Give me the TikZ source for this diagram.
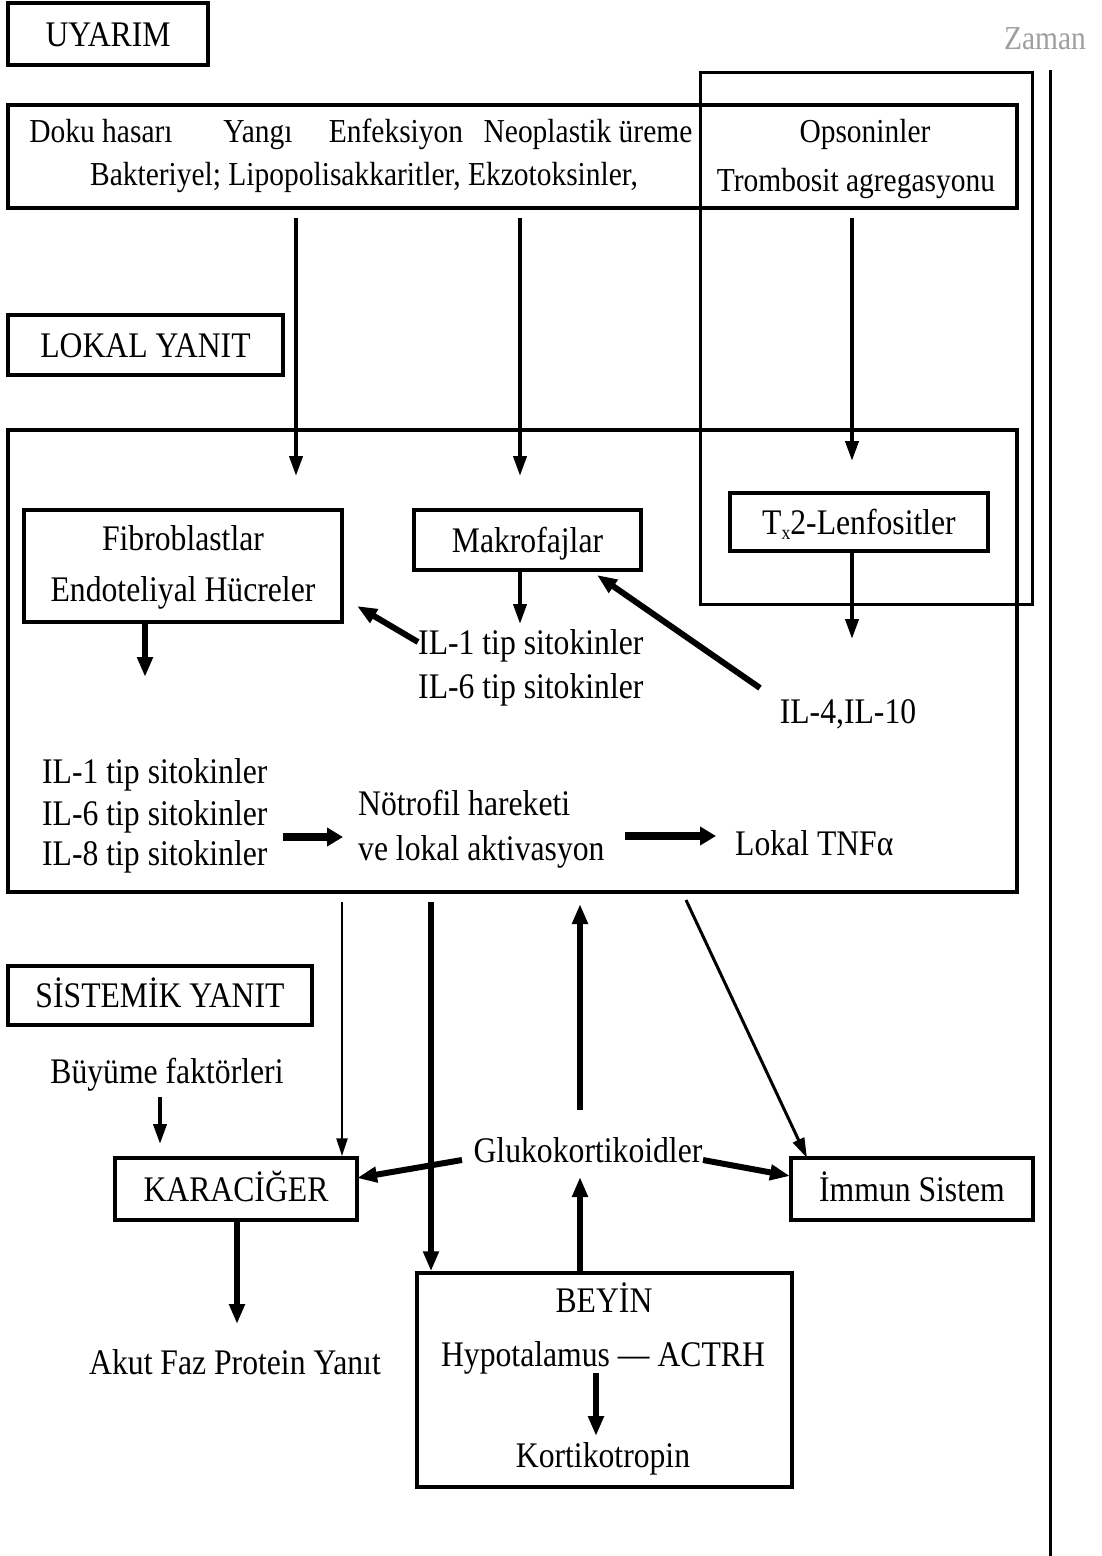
\documentclass[tikz,border=0pt]{standalone}
\usepackage{fontspec}
\setmainfont[FakeStretch=0.88]{Liberation Serif}
\usetikzlibrary{arrows.meta}
\begin{document}
\begin{tikzpicture}[x=1pt,y=-1pt,
  font=\fontsize{36}{42}\selectfont,
  box/.style={draw, line width=3.5pt, inner sep=0pt, text height=24pt, text depth=0pt},
  lbl/.style={inner sep=0pt, anchor=center, text height=24pt, text depth=0pt},
  sm/.style={font=\fontsize{33.5}{40}\selectfont},
  arrA/.style={line width=4pt, -{Triangle[length=20pt,width=13pt]}},
  arrB/.style={line width=6pt, -{Triangle[length=20pt,width=15pt]}},
  arrC/.style={line width=2.5pt, -{Triangle[length=18pt,width=11pt]}},
  arrD/.style={line width=8pt, -{Triangle[length=16pt,width=18pt]}}
]
\useasboundingbox (0,0) rectangle (1101,1556);
\fill[white] (0,0) rectangle (1101,1556);

% header labels
\node[box, minimum width=200pt, minimum height=62pt] (uyarim) at (108,34) {UYARIM};
\node[box, minimum width=275pt, minimum height=60pt] (lokal) at (145.5,345) {LOKAL YANIT};
\node[box, minimum width=304pt, minimum height=59pt] (sistemik) at (160,995.5) {SİSTEMİK YANIT};

% time axis
\node[lbl, sm, text=gray!75] (zaman) at (1045,37) {Zaman};
\coordinate (zt) at (1050,70);
\coordinate (zb) at (1050,1556);
\draw[line width=3pt] (zt) -- (zb);

% top stimulus box
\node[box, minimum width=1009pt, minimum height=103pt] (top) at (512.5,156.5) {};
\node[lbl, sm] (doku) at (101,130) {Doku hasarı};
\node[lbl, sm] (yangi) at (258,130) {Yangı};
\node[lbl, sm] (enf) at (396,130) {Enfeksiyon};
\node[lbl, sm] (neo) at (588,130) {Neoplastik üreme};
\node[lbl, sm] (bakt) at (364,173) {Bakteriyel; Lipopolisakkaritler, Ekzotoksinler,};
\node[lbl, sm] (ops) at (865,130) {Opsoninler};
\node[lbl, sm] (tromb) at (856,179) {Trombosit agregasyonu};

% overlay box
\node[draw, line width=3pt, inner sep=0pt, minimum width=332pt, minimum height=532pt] (opsbox) at (866,338) {};

% local box
\node[box, minimum width=1009pt, minimum height=462pt] (local) at (512.5,661) {};

\coordinate (d1s) at (296,218); \coordinate (d1e) at (296,476);
\coordinate (d2s) at (520,218); \coordinate (d2e) at (520,476);
\coordinate (d3s) at (852,218); \coordinate (d3e) at (852,461);
\draw[arrA] (d1s) -- (d1e);
\draw[arrA] (d2s) -- (d2e);
\draw[arrA] (d3s) -- (d3e);

\node[box, minimum width=318pt, minimum height=112pt] (fibro) at (183,566) {};
\node[lbl] (fibt1) at (183,538) {Fibroblastlar};
\node[lbl] (fibt2) at (183,589) {Endoteliyal Hücreler};
\node[box, minimum width=227pt, minimum height=60pt] (makro) at (527.5,540) {Makrofajlar};
\node[box, minimum width=258pt, minimum height=58pt] (tx2) at (859,522) {T\raisebox{-0.35ex}{\fontsize{20}{20}\selectfont x}2-Lenfositler};

\coordinate (fd) at (145,677);
\draw[arrB] (fibro.south -| fd) -- (fd);
\coordinate (md) at (520,624);
\draw[arrA] (makro.south -| md) -- (md);
\coordinate (td) at (852,639);
\draw[arrA] (tx2.south -| td) -- (td);

\node[lbl, anchor=west] (il1a) at (418,642) {IL-1 tip sitokinler};
\node[lbl, anchor=west] (il6a) at (418,686) {IL-6 tip sitokinler};
\node[lbl] (il410) at (848,711) {IL-4,IL-10};
\coordinate (ilf) at (357,606);
\draw[arrB] (il1a.west) -- (ilf);
\coordinate (il4s) at (760,688);
\coordinate (il4e) at (597,575);
\draw[arrB] (il4s) -- (il4e);

\node[lbl, anchor=west] (il1b) at (42,771) {IL-1 tip sitokinler};
\node[lbl, anchor=west] (il6b) at (42,813) {IL-6 tip sitokinler};
\node[lbl, anchor=west] (il8b) at (42,853) {IL-8 tip sitokinler};
\node[lbl, anchor=west] (notr1) at (358,803) {Nötrofil hareketi};
\node[lbl, anchor=west] (notr2) at (358,848) {ve lokal aktivasyon};
\node[lbl, anchor=west] (tnf) at (735,843) {Lokal TNFα};
\coordinate (h1s) at (283,837); \coordinate (h1e) at (343,837);
\draw[arrD] (h1s) -- (h1e);
\coordinate (h2s) at (625,836); \coordinate (h2e) at (716,836);
\draw[arrD] (h2s) -- (h2e);

% systemic part
\node[box, minimum width=242pt, minimum height=62pt] (karac) at (236,1189) {KARACİĞER};
\node[box, minimum width=242pt, minimum height=62pt] (immun) at (912,1189) {İmmun Sistem};
\node[box, minimum width=375pt, minimum height=214pt] (beyin) at (604.5,1380) {};
\node[lbl] (beyt) at (604,1300) {BEYİN};
\node[lbl] (hypo) at (603,1354) {Hypotalamus — ACTRH};
\node[lbl] (korti) at (603,1455) {Kortikotropin};
\coordinate (hk) at (596,1436);
\draw[arrB] (596,1373) -- (hk);

\node[lbl] (buyume) at (167,1071) {Büyüme faktörleri};
\coordinate (bk) at (160,1144);
\draw[arrA] (160,1097) -- (bk);

\node[lbl] (gluko) at (588,1150) {Glukokortikoidler};

\coordinate (s1) at (342,902);
\draw[arrC] (s1) -- (karac.north -| s1);
\coordinate (s2) at (431,902);
\draw[arrB] (s2) -- (beyin.north -| s2);
\coordinate (s3s) at (580,1110); \coordinate (s3e) at (580,904);
\draw[arrB] (s3s) -- (s3e);
\coordinate (s4s) at (686,900); \coordinate (s4e) at (807,1158);
\draw[line width=3pt, -{Triangle[length=20pt,width=12pt]}] (s4s) -- (s4e);

\coordinate (g1) at (462,1160);
\draw[arrB] (g1) -- (357,1178);
\coordinate (g2) at (703,1160);
\draw[arrB] (g2) -- (790,1176);
\coordinate (bu) at (580,1177);
\draw[arrB] (beyin.north -| bu) -- (bu);

\coordinate (ak) at (237,1324);
\draw[arrB] (karac.south -| ak) -- (ak);
\node[lbl] (akut) at (235,1362) {Akut Faz Protein Yanıt};
\end{tikzpicture}
\end{document}
